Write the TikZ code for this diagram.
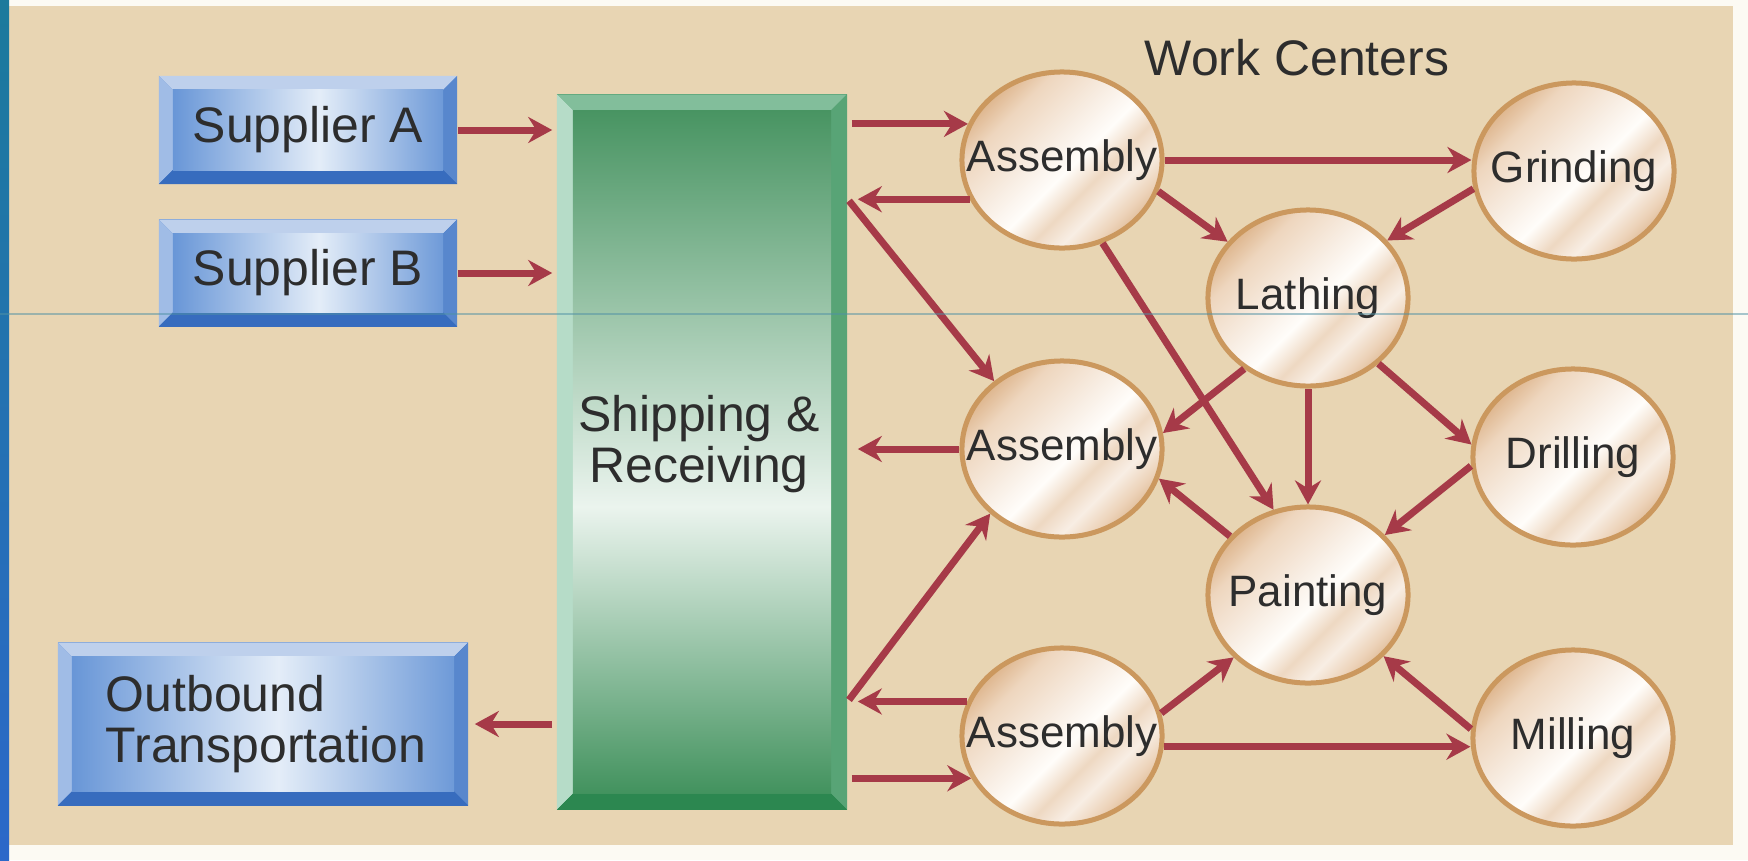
\documentclass[tikz,border=0pt]{standalone}
\usepackage{fontspec}
\setmainfont{Liberation Sans}
\usetikzlibrary{arrows.meta,shapes.geometric,calc}

\definecolor{pagebg}{RGB}{252,250,243}
\definecolor{bg}{RGB}{232,213,179}
\definecolor{stripTop}{RGB}{28,122,156}
\definecolor{stripBot}{RGB}{44,104,201}
\definecolor{arrowred}{RGB}{166,58,72}
\definecolor{ring}{RGB}{203,152,94}
\definecolor{txt}{RGB}{45,45,45}
\definecolor{artline}{RGB}{80,145,165}
% copper
\definecolor{cu1}{RGB}{222,182,142}
\definecolor{cu2}{RGB}{238,214,190}
\definecolor{cu3}{RGB}{248,238,228}
\definecolor{cu4}{RGB}{255,253,250}
\definecolor{cu5}{RGB}{238,216,194}
\definecolor{cu6}{RGB}{248,238,228}
\definecolor{cu7}{RGB}{236,210,184}
\definecolor{cu8}{RGB}{226,192,158}
% blue
\definecolor{bltop}{RGB}{190,208,236}
\definecolor{blleft}{RGB}{160,188,230}
\definecolor{blright}{RGB}{88,135,205}
\definecolor{blbot}{RGB}{55,108,190}
\definecolor{bf1}{RGB}{104,150,215}
\definecolor{bf2}{RGB}{228,237,248}
\definecolor{bf3}{RGB}{110,154,216}
% green
\definecolor{grtop}{RGB}{130,190,155}
\definecolor{grleft}{RGB}{182,220,200}
\definecolor{grright}{RGB}{88,164,118}
\definecolor{grbot}{RGB}{44,135,80}
\definecolor{gf1}{RGB}{72,148,98}
\definecolor{gf2}{RGB}{235,244,238}
\definecolor{gf3}{RGB}{66,146,94}

\pgfdeclarehorizontalshading{copper}{100bp}{color(0bp)=(cu1); color(25bp)=(cu1); color(32bp)=(cu2); color(45bp)=(cu3); color(53bp)=(cu4); color(60bp)=(cu5); color(66bp)=(cu6); color(72bp)=(cu7); color(75bp)=(cu8); color(100bp)=(cu8)}
\pgfdeclarehorizontalshading{blueface}{100bp}{color(0bp)=(bf1); color(25bp)=(bf1); color(52bp)=(bf2); color(75bp)=(bf3); color(100bp)=(bf3)}
\pgfdeclareverticalshading{greenface}{100bp}{color(0bp)=(gf3); color(25bp)=(gf3); color(46bp)=(gf2); color(75bp)=(gf1); color(100bp)=(gf1)}

\newcommand{\bigfnt}{\fontsize{14.2pt}{14.5pt}\selectfont}
\newcommand{\smallfnt}{\fontsize{12.5pt}{14pt}\selectfont}

\tikzset{
  bevelfill/.style n args={6}{path picture={
    \path (path picture bounding box.north west) coordinate (bNW)
          (path picture bounding box.south east) coordinate (bSE)
          (path picture bounding box.north east) coordinate (bNE)
          (path picture bounding box.south west) coordinate (bSW);
    \fill[#1] (bNW) -- (bNE) -- ([shift={(-#5,-#5)}]bNE) -- ([shift={(#5,-#5)}]bNW) -- cycle;
    \fill[#2] (bNW) -- ([shift={(#5,-#5)}]bNW) -- ([shift={(#5,#5)}]bSW) -- (bSW) -- cycle;
    \fill[#3] (bNE) -- (bSE) -- ([shift={(-#5,#5)}]bSE) -- ([shift={(-#5,-#5)}]bNE) -- cycle;
    \fill[#4] (bSW) -- ([shift={(#5,#5)}]bSW) -- ([shift={(-#5,#5)}]bSE) -- (bSE) -- cycle;
    \shade[shading=#6] ([shift={(#5,-#5)}]bNW) rectangle ([shift={(-#5,#5)}]bSE);
  }},
  bluebox/.style={rectangle, inner sep=0pt, fill=blbot, text=txt, font=\bigfnt,
    bevelfill={bltop}{blleft}{blright}{blbot}{0.14cm}{blueface}},
  greenbox/.style={rectangle, inner sep=0pt, fill=grbot,
    bevelfill={grtop}{grleft}{grright}{grbot}{0.16cm}{greenface}},
  lbl/.style={text=txt, font=\bigfnt, inner sep=0pt},
  center/.style={ellipse, minimum width=2cm, minimum height=1.76cm, inner sep=0pt,
    shade, shading=copper, shading angle=-45, draw=ring, line width=0.05cm,
    font=\smallfnt, text=txt},
  arr/.style={draw=arrowred, line width=0.07cm,
    -{Stealth[length=0.24cm, width=0.26cm, inset=0.08cm]}}
}

\begin{document}
\begin{tikzpicture}[x=0.01cm, y=-0.01cm]
\useasboundingbox (0,0) rectangle (1748,860);
\fill[pagebg] (0,0) rectangle (1748,860);
\fill[bg] (9,6) rectangle (1733,845);
\shade[top color=stripTop, bottom color=stripBot] (0,0) rectangle (9,860);

% boxes
\node[bluebox, minimum width=2.98cm, minimum height=1.08cm] (supA) at (308,130) {Supplier A};
\node[bluebox, minimum width=2.98cm, minimum height=1.07cm] (supB) at (308,273) {Supplier B};
\node[bluebox, minimum width=4.10cm, minimum height=1.63cm] (outb) at (263,724) {};
\node[lbl, anchor=west, align=left] (outbtxt) at ($(outb.west)+(0.48cm,0)$) {Outbound\\Transportation};
\node[greenbox, minimum width=2.90cm, minimum height=7.15cm] (ship) at (702,452) {};
\node[lbl, align=center] (shiptxt) at (699,444) {Shipping \&\\Receiving};

\node[lbl] (wc) at (1297,58) {Work Centers};

% work centers
\node[center] (A1) at (1062,160) {\makebox[0pt]{Assembly}};
\node[center] (G)  at (1574,171) {\makebox[0pt]{Grinding}};
\node[center] (L)  at (1308,298) {\makebox[0pt]{Lathing}};
\node[center] (A2) at (1062,449) {\makebox[0pt]{Assembly}};
\node[center] (D)  at (1573,457) {\makebox[0pt]{Drilling}};
\node[center] (P)  at (1308,595) {\makebox[0pt]{Painting}};
\node[center] (A3) at (1062,736) {\makebox[0pt]{Assembly}};
\node[center] (M)  at (1573,738) {\makebox[0pt]{Milling}};

% connectors
\draw[arr, shorten >=0.04cm] (supA.east) -- (supA.east -| ship.west);
\draw[arr, shorten >=0.04cm] (supB.east) -- (supB.east -| ship.west);
\draw[arr, shorten <=0.04cm, shorten >=0.06cm] (ship.west |- outb.east) -- (outb.east);

\draw[arr, shorten <=0.04cm] (ship.east |- A1.159) -- (A1.159);
\draw[arr, shorten >=0.1cm] (A1.203) -- (A1.203 -| ship.east);
\draw[arr, shorten <=0.02cm] (A1.203 -| ship.east) -- (A2.135);
\draw[arr, shorten >=0.1cm] (A2.west) -- (A2.west -| ship.east);
\draw[arr, shorten <=0.02cm] (A3.160 -| ship.east) -- (A2.222);
\draw[arr, shorten >=0.1cm] (A3.160) -- (A3.160 -| ship.east);
\draw[arr, shorten <=0.04cm] (ship.east |- A3.205) -- (A3.205);

\draw[arr] (A1.east) -- (A1.east -| G.west);
\draw[arr] (G.190) -- (L.36);
\draw[arr] (A1.342) -- (L.145);
\draw[arr] (A1.296) -- (P.112);
\draw[arr] (L.228) -- (A2.9);
\draw[arr] (L.south) -- (P.north);
\draw[arr] (L.317) -- (D.173);
\draw[arr] (D.185) -- (P.38);
\draw[arr] (P.143) -- (A2.343);
\draw[arr] (A3.13) -- (P.220);
\draw[arr] (A3.354) -- (A3.354 -| M.west);
\draw[arr] (M.175) -- (P.321);

% thin horizontal scan line across the picture
\draw[artline, line width=0.012cm, opacity=0.5] (0,314) -- (1748,314);
\end{tikzpicture}
\end{document}
